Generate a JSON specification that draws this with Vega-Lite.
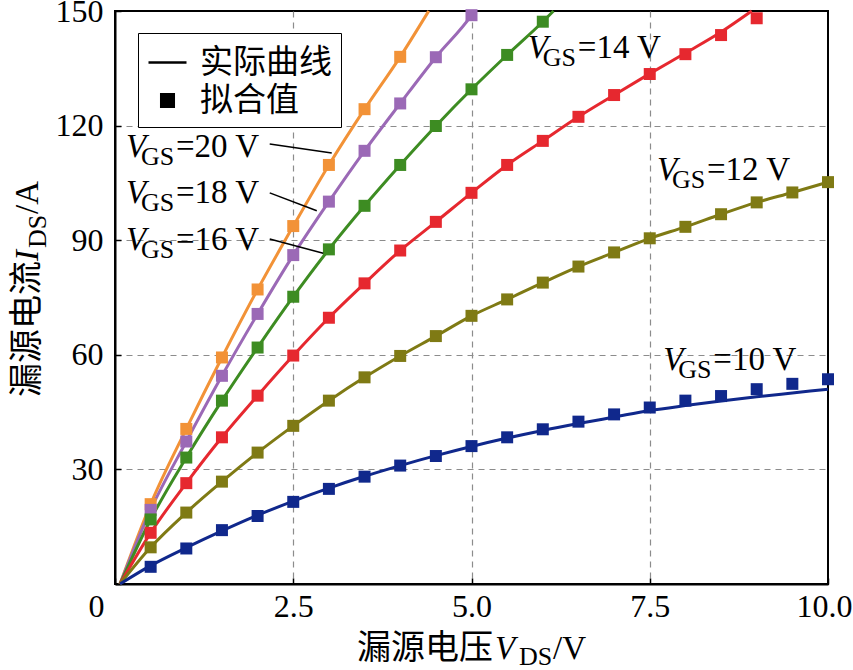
{
"$schema":"https://vega.github.io/schema/vega-lite/v6.json",
"width":713,"height":573,
"autosize":{"type":"none"},
"padding":{"left":115,"top":11,"right":25,"bottom":86},
"background":"white",
"config":{
 "view":{"stroke":"black","strokeWidth":2},
 "axis":{"labelFont":"Liberation Serif","labelFontSize":32,"labelColor":"black","domainColor":"black","domainWidth":2,"tickColor":"black","tickWidth":1.5,"tickSize":-6,"grid":true,"gridColor":"#8c8c8c","gridDash":[6,5],"gridWidth":1.2,"title":null,"labelFlush":false,"labelOverlap":false}
},
"datasets":{
"curves":[
{"s":"20","V":0.07,"I":0},{"s":"20","V":0.5,"I":20.9},{"s":"20","V":1,"I":40.6},{"s":"20","V":1.5,"I":59.3},{"s":"20","V":2,"I":77.1},{"s":"20","V":2.5,"I":93.7},{"s":"20","V":3,"I":109.7},{"s":"20","V":3.5,"I":124.3},{"s":"20","V":4,"I":138.0},{"s":"20","V":4.4,"I":150},
{"s":"18","V":0.07,"I":0},{"s":"18","V":0.5,"I":19.4},{"s":"18","V":1,"I":37.3},{"s":"18","V":1.5,"I":54.5},{"s":"18","V":2,"I":70.7},{"s":"18","V":2.5,"I":86.1},{"s":"18","V":3,"I":100.1},{"s":"18","V":3.5,"I":113.4},{"s":"18","V":4,"I":125.8},{"s":"18","V":4.5,"I":137.9},{"s":"18","V":5,"I":148.9},{"s":"18","V":5.04,"I":150},
{"s":"16","V":0.07,"I":0},{"s":"16","V":0.5,"I":16.9},{"s":"16","V":1,"I":33.1},{"s":"16","V":1.5,"I":48.0},{"s":"16","V":2,"I":61.9},{"s":"16","V":2.5,"I":75.2},{"s":"16","V":3,"I":87.6},{"s":"16","V":3.5,"I":99.0},{"s":"16","V":4,"I":109.7},{"s":"16","V":4.5,"I":119.9},{"s":"16","V":5,"I":129.5},{"s":"16","V":5.5,"I":138.5},{"s":"16","V":6,"I":147.2},{"s":"16","V":6.15,"I":150},
{"s":"14","V":0.07,"I":0},{"s":"14","V":0.5,"I":13.4},{"s":"14","V":1,"I":26.4},{"s":"14","V":1.5,"I":38.4},{"s":"14","V":2,"I":49.3},{"s":"14","V":2.5,"I":59.8},{"s":"14","V":3,"I":69.7},{"s":"14","V":3.5,"I":78.7},{"s":"14","V":4,"I":87.3},{"s":"14","V":4.5,"I":94.8},{"s":"14","V":5,"I":102.4},{"s":"14","V":5.5,"I":109.7},{"s":"14","V":6,"I":116.0},{"s":"14","V":6.5,"I":122.3},{"s":"14","V":7,"I":128.0},{"s":"14","V":7.5,"I":133.6},{"s":"14","V":8,"I":139.0},{"s":"14","V":8.5,"I":144.5},{"s":"14","V":8.93,"I":150},
{"s":"12","V":0.07,"I":0},{"s":"12","V":0.5,"I":9.6},{"s":"12","V":1,"I":18.7},{"s":"12","V":1.5,"I":26.8},{"s":"12","V":2,"I":34.4},{"s":"12","V":2.5,"I":41.4},{"s":"12","V":3,"I":48.0},{"s":"12","V":3.5,"I":54.1},{"s":"12","V":4,"I":59.7},{"s":"12","V":4.5,"I":64.9},{"s":"12","V":5,"I":70.2},{"s":"12","V":5.5,"I":74.5},{"s":"12","V":6,"I":78.9},{"s":"12","V":6.5,"I":83.1},{"s":"12","V":7,"I":86.8},{"s":"12","V":7.5,"I":90.5},{"s":"12","V":8,"I":93.5},{"s":"12","V":8.5,"I":96.8},{"s":"12","V":9,"I":99.9},{"s":"12","V":9.5,"I":102.5},{"s":"12","V":10,"I":105.2},
{"s":"10","V":0.07,"I":0},{"s":"10","V":0.5,"I":4.8},{"s":"10","V":1,"I":9.5},{"s":"10","V":1.5,"I":13.9},{"s":"10","V":2,"I":18.0},{"s":"10","V":2.5,"I":21.7},{"s":"10","V":3,"I":25.1},{"s":"10","V":3.5,"I":28.2},{"s":"10","V":4,"I":31.0},{"s":"10","V":4.5,"I":33.6},{"s":"10","V":5,"I":36.0},{"s":"10","V":5.5,"I":38.2},{"s":"10","V":6,"I":40.2},{"s":"10","V":6.5,"I":42.0},{"s":"10","V":7,"I":43.7},{"s":"10","V":7.5,"I":45.4},{"s":"10","V":8,"I":46.7},{"s":"10","V":8.5,"I":47.9},{"s":"10","V":9,"I":49.0},{"s":"10","V":9.5,"I":50.0},{"s":"10","V":10,"I":51.0}
],
"fits":[
{"s":"20","V":0.5,"I":20.9},{"s":"20","V":1,"I":40.6},{"s":"20","V":1.5,"I":59.3},{"s":"20","V":2,"I":77.1},{"s":"20","V":2.5,"I":93.7},{"s":"20","V":3,"I":109.7},{"s":"20","V":3.5,"I":124.3},{"s":"20","V":4,"I":138.0},
{"s":"18","V":0.5,"I":19.4},{"s":"18","V":1,"I":37.3},{"s":"18","V":1.5,"I":54.5},{"s":"18","V":2,"I":70.7},{"s":"18","V":2.5,"I":86.1},{"s":"18","V":3,"I":100.1},{"s":"18","V":3.5,"I":113.4},{"s":"18","V":4,"I":125.8},{"s":"18","V":4.5,"I":137.9},{"s":"18","V":5,"I":148.9},
{"s":"16","V":0.5,"I":16.9},{"s":"16","V":1,"I":33.1},{"s":"16","V":1.5,"I":48.0},{"s":"16","V":2,"I":61.9},{"s":"16","V":2.5,"I":75.2},{"s":"16","V":3,"I":87.6},{"s":"16","V":3.5,"I":99.0},{"s":"16","V":4,"I":109.7},{"s":"16","V":4.5,"I":119.9},{"s":"16","V":5,"I":129.5},{"s":"16","V":5.5,"I":138.5},{"s":"16","V":6,"I":147.2},
{"s":"14","V":0.5,"I":13.4},{"s":"14","V":1,"I":26.4},{"s":"14","V":1.5,"I":38.4},{"s":"14","V":2,"I":49.3},{"s":"14","V":2.5,"I":59.8},{"s":"14","V":3,"I":69.7},{"s":"14","V":3.5,"I":78.7},{"s":"14","V":4,"I":87.3},{"s":"14","V":4.5,"I":94.8},{"s":"14","V":5,"I":102.4},{"s":"14","V":5.5,"I":109.7},{"s":"14","V":6,"I":116.0},{"s":"14","V":6.5,"I":122.3},{"s":"14","V":7,"I":128.0},{"s":"14","V":7.5,"I":133.5},{"s":"14","V":8,"I":138.7},{"s":"14","V":8.5,"I":143.7},{"s":"14","V":9,"I":148.1},
{"s":"12","V":0.5,"I":9.6},{"s":"12","V":1,"I":18.7},{"s":"12","V":1.5,"I":26.8},{"s":"12","V":2,"I":34.4},{"s":"12","V":2.5,"I":41.4},{"s":"12","V":3,"I":48.0},{"s":"12","V":3.5,"I":54.1},{"s":"12","V":4,"I":59.7},{"s":"12","V":4.5,"I":64.9},{"s":"12","V":5,"I":70.2},{"s":"12","V":5.5,"I":74.5},{"s":"12","V":6,"I":78.9},{"s":"12","V":6.5,"I":83.1},{"s":"12","V":7,"I":86.8},{"s":"12","V":7.5,"I":90.5},{"s":"12","V":8,"I":93.5},{"s":"12","V":8.5,"I":96.8},{"s":"12","V":9,"I":99.9},{"s":"12","V":9.5,"I":102.5},{"s":"12","V":10,"I":105.2},
{"s":"10","V":0.5,"I":4.5},{"s":"10","V":1,"I":9.3},{"s":"10","V":1.5,"I":14.1},{"s":"10","V":2,"I":17.8},{"s":"10","V":2.5,"I":21.5},{"s":"10","V":3,"I":24.9},{"s":"10","V":3.5,"I":28.1},{"s":"10","V":4,"I":31.0},{"s":"10","V":4.5,"I":33.5},{"s":"10","V":5,"I":36.1},{"s":"10","V":5.5,"I":38.4},{"s":"10","V":6,"I":40.5},{"s":"10","V":6.5,"I":42.5},{"s":"10","V":7,"I":44.4},{"s":"10","V":7.5,"I":46.2},{"s":"10","V":8,"I":48.0},{"s":"10","V":8.5,"I":49.2},{"s":"10","V":9,"I":51.0},{"s":"10","V":9.5,"I":52.4},{"s":"10","V":10,"I":53.6}
],
"labels":[{"vgs":"=20 V","x":0.154,"y":111.8},{"vgs":"=18 V","x":0.154,"y":99.7},{"vgs":"=16 V","x":0.154,"y":87.4},{"vgs":"=14 V","x":5.79,"y":137.7},{"vgs":"=12 V","x":7.6,"y":105.8},{"vgs":"=10 V","x":7.69,"y":56.0}],
"leaders":[{"x":2.17,"y":115.2,"x2":3.04,"y2":112.8},{"x":2.17,"y":102.4,"x2":2.83,"y2":97.7},{"x":2.17,"y":90.3,"x2":2.92,"y2":86.6}],
"xtitle":[{"x":3.394,"y":-19.6}],
"ytitle":[{"x":-1.08,"y":48.95}]
},
"layer":[
{"data":{"name":"curves"},
 "mark":{"type":"line","strokeWidth":3,"interpolate":"monotone"},
 "encoding":{
  "x":{"field":"V","type":"quantitative","scale":{"domain":[0,10],"nice":false},
       "axis":{"values":[0,2.5,5,7.5,10],"labelExpr":"datum.value == 0 ? '0' : format(datum.value, '.1f')","labelPadding":13,
               "labelOffset":{"condition":[{"test":"datum.value == 0","value":-19},{"test":"datum.value == 10","value":-4}],"value":0},
               "gridOpacity":{"condition":{"test":"datum.value == 0 || datum.value == 10","value":0},"value":1}}},
  "y":{"field":"I","type":"quantitative","scale":{"domain":[0,150],"nice":false},
       "axis":{"values":[0,30,60,90,120,150],"labelExpr":"datum.value == 0 ? '' : datum.label","labelPadding":18,
               "gridOpacity":{"condition":{"test":"datum.value == 0 || datum.value == 150","value":0},"value":1}}},
  "color":{"field":"s","type":"nominal","scale":{"domain":["20","18","16","14","12","10"],"range":["#F29237","#9B69B6","#3D8C22","#E6282F","#7F7A14","#10288C"]},"legend":null},
  "strokeWidth":{"condition":{"test":"datum.s == '10'","value":4},"value":3}
 }},
{"data":{"name":"fits"},
 "mark":{"type":"point","filled":true,"size":1322,"opacity":1,"strokeWidth":0},
 "encoding":{
  "x":{"field":"V","type":"quantitative"},
  "y":{"field":"I","type":"quantitative"},
  "color":{"field":"s","type":"nominal","legend":null},
  "shape":{"datum":"拟合值","type":"nominal",
    "scale":{"domain":["实际曲线","拟合值"],"range":["stroke","M-0.33,-0.33H0.33V0.33H-0.33Z"]},
    "legend":{"title":null,"orient":"none","legendX":23,"legendY":22,"padding":9,"strokeColor":"black","fillColor":"white",
      "labelFont":"Noto Sans CJK SC","labelFontSize":33,"labelColor":"black","labelOffset":12,"symbolSize":1444,"rowPadding":0,
      "symbolFillColor":"black","symbolStrokeColor":"black","symbolStrokeWidth":2.5,
      "encode":{"legend":{"update":{"strokeWidth":{"value":1.5}}},"symbols":{"update":{"fill":{"value":"black"},"stroke":{"value":"black"},"strokeWidth":{"value":2.5}}}}}}
 }},
{"data":{"name":"leaders"},
 "mark":{"type":"rule","color":"black","strokeWidth":1.5},
 "encoding":{"x":{"field":"x","type":"quantitative"},"y":{"field":"y","type":"quantitative"},"x2":{"field":"x2"},"y2":{"field":"y2"}}},
{"data":{"name":"labels"},
 "mark":{"type":"text","align":"left","baseline":"alphabetic","font":"Liberation Serif","fontStyle":"italic","fontSize":33,"color":"black"},
 "encoding":{"x":{"field":"x","type":"quantitative"},"y":{"field":"y","type":"quantitative"},"text":{"value":"V"}}},
{"data":{"name":"labels"},
 "mark":{"type":"text","align":"left","baseline":"alphabetic","font":"Liberation Serif","fontSize":26,"color":"black","dx":15,"dy":8},
 "encoding":{"x":{"field":"x","type":"quantitative"},"y":{"field":"y","type":"quantitative"},"text":{"value":"GS"}}},
{"data":{"name":"labels"},
 "mark":{"type":"text","align":"left","baseline":"alphabetic","font":"Liberation Serif","fontSize":33,"color":"black","dx":50},
 "encoding":{"x":{"field":"x","type":"quantitative"},"y":{"field":"y","type":"quantitative"},"text":{"field":"vgs"}}},
{"data":{"name":"xtitle"},
 "mark":{"type":"text","align":"left","baseline":"alphabetic","font":"Noto Sans CJK SC","fontSize":34,"color":"black"},
 "encoding":{"x":{"field":"x","type":"quantitative"},"y":{"field":"y","type":"quantitative"},"text":{"value":"漏源电压"}}},
{"data":{"name":"xtitle"},
 "mark":{"type":"text","align":"left","baseline":"alphabetic","font":"Liberation Serif","fontStyle":"italic","fontSize":33,"color":"black","dx":138},
 "encoding":{"x":{"field":"x","type":"quantitative"},"y":{"field":"y","type":"quantitative"},"text":{"value":"V"}}},
{"data":{"name":"xtitle"},
 "mark":{"type":"text","align":"left","baseline":"alphabetic","font":"Liberation Serif","fontSize":26,"color":"black","dx":162,"dy":6},
 "encoding":{"x":{"field":"x","type":"quantitative"},"y":{"field":"y","type":"quantitative"},"text":{"value":"DS"}}},
{"data":{"name":"xtitle"},
 "mark":{"type":"text","align":"left","baseline":"alphabetic","font":"Liberation Serif","fontSize":33,"color":"black","dx":196},
 "encoding":{"x":{"field":"x","type":"quantitative"},"y":{"field":"y","type":"quantitative"},"text":{"value":"/V"}}},
{"data":{"name":"ytitle"},
 "mark":{"type":"text","align":"left","baseline":"alphabetic","angle":270,"font":"Noto Sans CJK SC","fontSize":34,"color":"black"},
 "encoding":{"x":{"field":"x","type":"quantitative"},"y":{"field":"y","type":"quantitative"},"text":{"value":"漏源电流"}}},
{"data":{"name":"ytitle"},
 "mark":{"type":"text","align":"left","baseline":"alphabetic","angle":270,"font":"Liberation Serif","fontStyle":"italic","fontSize":33,"color":"black","dx":136},
 "encoding":{"x":{"field":"x","type":"quantitative"},"y":{"field":"y","type":"quantitative"},"text":{"value":"I"}}},
{"data":{"name":"ytitle"},
 "mark":{"type":"text","align":"left","baseline":"alphabetic","angle":270,"font":"Liberation Serif","fontSize":26,"color":"black","dx":149,"dy":8},
 "encoding":{"x":{"field":"x","type":"quantitative"},"y":{"field":"y","type":"quantitative"},"text":{"value":"DS"}}},
{"data":{"name":"ytitle"},
 "mark":{"type":"text","align":"left","baseline":"alphabetic","angle":270,"font":"Liberation Serif","fontSize":33,"color":"black","dx":183},
 "encoding":{"x":{"field":"x","type":"quantitative"},"y":{"field":"y","type":"quantitative"},"text":{"value":"/A"}}}
]
}
